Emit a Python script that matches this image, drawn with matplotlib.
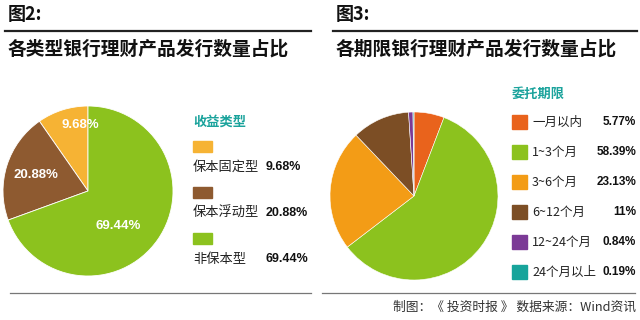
import numpy as np
import matplotlib
matplotlib.use("Agg")
import matplotlib.pyplot as plt
from matplotlib.lines import Line2D
from matplotlib.patches import Rectangle

plt.rcParams['font.family'] = ['Noto Sans CJK SC', 'DejaVu Sans']

# ── data ──────────────────────────────────────────────────────────────────────
type_labels = ["保本固定型", "保本浮动型", "非保本型"]
type_values = [9.68, 20.88, 69.44]
type_text = ["9.68%", "20.88%", "69.44%"]
type_colors = ["#F6B334", "#8E5A30", "#8CC21E"]

term_labels = ["一月以内", "1~3个月", "3~6个月", "6~12个月", "12~24个月", "24个月以上"]
term_values = [5.77, 58.39, 23.13, 11.0, 0.84, 0.19]
term_text = ["5.77%", "58.39%", "23.13%", "11%", "0.84%", "0.19%"]
term_colors = ["#E9631C", "#8CC21E", "#F39C16", "#7C4E25", "#7B3A96", "#17A49B"]

W, H = 640, 320
fig = plt.figure(figsize=(6.4, 3.2), dpi=100)
fig.patch.set_facecolor("white")

NUM = ['Liberation Sans', 'DejaVu Sans']
TEAL = "#1BA39C"


def fx(x):
    return x / W


def fy(y):
    return 1 - y / H


def hline(x0, x1, y, lw=1.6, color="#222222"):
    fig.add_artist(Line2D([fx(x0), fx(x1)], [fy(y), fy(y)], lw=lw, color=color,
                          transform=fig.transFigure))


def pie_axes(cx, cy, r):
    ax = fig.add_axes([fx(cx - r), fy(cy + r), 2 * r / W, 2 * r / H])
    return ax


# ── headers ───────────────────────────────────────────────────────────────────
fig.text(fx(8), fy(15), "图2:", fontsize=13, fontweight="bold", va="center", color="#111111")
hline(5, 311, 31)
fig.text(fx(8), fy(49), "各类型银行理财产品发行数量占比", fontsize=13.5, fontweight="bold",
         va="center", color="#111111")

fig.text(fx(336), fy(15), "图3:", fontsize=13, fontweight="bold", va="center", color="#111111")
hline(333, 637, 31)
fig.text(fx(336), fy(49), "各期限银行理财产品发行数量占比", fontsize=13.5, fontweight="bold",
         va="center", color="#111111")

# ── left pie ──────────────────────────────────────────────────────────────────
ax1 = pie_axes(88, 191, 85)
wedges1, _ = ax1.pie(type_values, colors=type_colors, startangle=90, counterclock=True,
                     wedgeprops=dict(edgecolor="white", linewidth=0.6))
ax1.set_xlim(-1, 1)
ax1.set_ylim(-1, 1)
label_r = [0.78, 0.64, 0.55]
for w, t, r in zip(wedges1, type_text, label_r):
    ang = np.deg2rad((w.theta1 + w.theta2) / 2)
    if t == "69.44%":
        ang = np.deg2rad(311)
    if t == "9.68%":
        ang = np.deg2rad(97)
    ax1.text(r * np.cos(ang), r * np.sin(ang), t, color="white", fontsize=9.5,
             fontweight="bold", family=NUM, ha="center", va="center")

# left legend
fig.text(fx(193), fy(122), "收益类型", fontsize=9.5, fontweight="bold", color=TEAL, va="center")
rows = [146, 192, 238]
for y, lab, txt, c in zip(rows, type_labels, type_text, type_colors):
    fig.add_artist(Rectangle((fx(193), fy(y + 6)), 19 / W, 11 / H, color=c,
                             transform=fig.transFigure))
    fig.text(fx(193), fy(y + 21), lab, fontsize=9.5, va="center", color="#222222")
    fig.text(fx(266), fy(y + 21), txt, fontsize=9, fontweight="bold", family=NUM,
             va="center", color="#111111")

hline(10, 311, 293, lw=0.9, color="#777777")

# ── right pie ─────────────────────────────────────────────────────────────────
ax2 = pie_axes(414, 196, 84)
ax2.pie(term_values, colors=term_colors, startangle=90, counterclock=False,
        wedgeprops=dict(edgecolor="white", linewidth=0.4))
ax2.set_xlim(-1, 1)
ax2.set_ylim(-1, 1)

fig.text(fx(512), fy(94), "委托期限", fontsize=9.5, fontweight="bold", color=TEAL, va="center")
for i, (lab, txt, c) in enumerate(zip(term_labels, term_text, term_colors)):
    y = 122 + 30 * i
    fig.add_artist(Rectangle((fx(512), fy(y + 7)), 15 / W, 14 / H, color=c,
                             transform=fig.transFigure))
    fig.text(fx(532), fy(y), lab, fontsize=9, va="center", color="#222222")
    fig.text(fx(636), fy(y), txt, fontsize=8.5, fontweight="bold", family=NUM,
             ha="right", va="center", color="#111111")

hline(322, 635, 293, lw=0.9, color="#777777")

# ── footer ────────────────────────────────────────────────────────────────────
fig.text(fx(636), fy(307), "制图：《 投资时报 》 数据来源：Wind资讯", fontsize=9.2,
         ha="right", va="center", color="#333333")

fig.savefig("out.png", dpi=100)
